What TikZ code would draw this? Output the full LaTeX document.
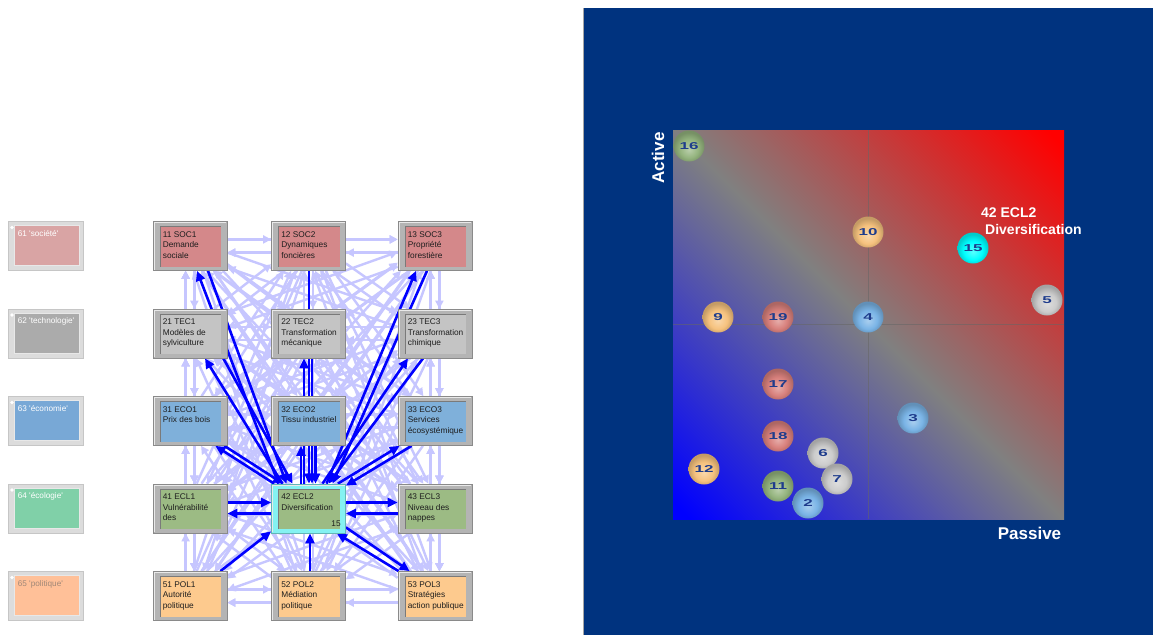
\documentclass[tikz,border=0pt]{standalone}
\usepackage{fontspec}
\setmainfont{Liberation Sans}
\newfontfamily\ballfont[FakeStretch=1.7]{Liberation Sans}
\usetikzlibrary{arrows.meta}
\pgfdeclarelayer{background}
\pgfsetlayers{background,main}

% box colours
\definecolor{framegray}{HTML}{B4B4B4}
\definecolor{frameedge}{HTML}{8A8A8A}
\definecolor{innerline}{HTML}{7A7A7A}
\definecolor{catframe}{HTML}{DCDCDC}
\definecolor{catedge}{HTML}{C6C6C6}
\definecolor{soc}{HTML}{D4888A}
\definecolor{tec}{HTML}{C4C4C4}
\definecolor{eco}{HTML}{7FB0DA}
\definecolor{ecl}{HTML}{9CBB84}
\definecolor{pol}{HTML}{FDCA8E}
\definecolor{hicyan}{HTML}{84F2F2}
\definecolor{catsoc}{HTML}{D9A4A4}
\definecolor{cattec}{HTML}{ABABAB}
\definecolor{cateco}{HTML}{78A8D6}
\definecolor{catecl}{HTML}{80D0A8}
\definecolor{catpol}{HTML}{FFC098}
\definecolor{catpoltext}{HTML}{A08878}
\definecolor{celltextc}{HTML}{1E1E1E}
% links
\definecolor{linklite}{HTML}{C6C6FF}
\definecolor{linkdark}{HTML}{0000FF}
% map
\definecolor{panel}{HTML}{00337F}
\definecolor{midgray}{HTML}{808080}
\definecolor{balltext}{HTML}{1E3C8C}
\definecolor{bOrg}{HTML}{F6C27E}
\definecolor{bPnk}{HTML}{D8807C}
\definecolor{bBlu}{HTML}{7AB4E6}
\definecolor{bGry}{HTML}{CCCCCC}
\definecolor{bGrn}{HTML}{94B47E}
\definecolor{bCyn}{HTML}{00FFFF}
\definecolor{ballc}{HTML}{CCCCCC}

\pgfdeclarehorizontalshading{plotgrad}{100bp}{color(0bp)=(blue); color(16bp)=(blue); color(50bp)=(midgray); color(84bp)=(red); color(100bp)=(red)}
\pgfdeclareradialshading[ballc]{bubble}{\pgfpoint{0bp}{-6bp}}{color(0bp)=(ballc!65!white); color(15bp)=(ballc); color(25bp)=(ballc!80!black); color(50bp)=(ballc!80!black)}

\tikzset{
  cell/.style={rectangle, minimum width=74pt, minimum height=49pt, inner sep=0pt,
    fill=framegray, draw=frameedge, line width=0.7pt,
    path picture={
      \fill[#1] ([shift={(7pt,4pt)}]path picture bounding box.south west)
        rectangle ([shift={(-6pt,-5pt)}]path picture bounding box.north east);
      \draw[innerline, line width=0.8pt] ([shift={(7pt,4pt)}]path picture bounding box.south west)
        |- ([shift={(-6pt,-5pt)}]path picture bounding box.north east);
      \draw[white!70!framegray, line width=1pt] ([shift={(1pt,1pt)}]path picture bounding box.south west)
        |- ([shift={(-1pt,-1pt)}]path picture bounding box.north east);
    }},
  catbox/.style={rectangle, minimum width=75pt, minimum height=49pt, inner sep=0pt,
    fill=catframe, draw=catedge, line width=0.7pt,
    path picture={
      \fill[#1] ([shift={(6pt,5pt)}]path picture bounding box.south west)
        rectangle ([shift={(-4pt,-4pt)}]path picture bounding box.north east);
      \draw[white!60!catedge, line width=0.6pt] ([shift={(6pt,5pt)}]path picture bounding box.south west)
        rectangle ([shift={(-4pt,-4pt)}]path picture bounding box.north east);
      \fill[white] ([shift={(4pt,-6pt)}]path picture bounding box.north west) circle (1.8pt);
    }},
  celltext/.style={anchor=north west, align=left, inner sep=0pt,
    font=\fontsize{8.3}{10.6}\selectfont, text=celltextc},
  cattext/.style={anchor=north west, align=left, inner sep=0pt,
    font=\fontsize{8.2}{10}\selectfont, text=white},
  lite/.style={draw=linklite, line width=2.4pt, -{Triangle[length=8pt,width=8pt]}},
  dark/.style={draw=linkdark, line width=2.6pt, -{Triangle[length=10pt,width=9pt]}},
  ball/.style={circle, minimum size=31pt, inner sep=0pt, shading=bubble,
    /utils/exec={\colorlet{ballc}{#1}},
    font=\ballfont\bfseries\fontsize{10}{10}\selectfont, text=balltext},
  axlabel/.style={inner sep=0pt, text=white, font=\bfseries\fontsize{17}{17}\selectfont},
  quad/.style={draw=black!60, opacity=0.55, line width=0.8pt},
}

\begin{document}
\begin{tikzpicture}[x=1pt, y=-1pt]
\useasboundingbox (0,0) rectangle (1153,635);
\begin{pgfonlayer}{background}
  \fill[white] (0,0) rectangle (1153,635);
\end{pgfonlayer}

% ---------- category legend ----------
\node[catbox=catsoc] (c61) at (45.5,246) {};
\node[cattext] (ct61) at ([shift={(10,9)}]c61.north west) {61 \textquotesingle société\textquotesingle};
\node[catbox=cattec] (c62) at (45.5,333.5) {};
\node[cattext] (ct62) at ([shift={(10,9)}]c62.north west) {62 \textquotesingle technologie\textquotesingle};
\node[catbox=cateco] (c63) at (45.5,421) {};
\node[cattext] (ct63) at ([shift={(10,9)}]c63.north west) {63 \textquotesingle économie\textquotesingle};
\node[catbox=catecl] (c64) at (45.5,508.5) {};
\node[cattext] (ct64) at ([shift={(10,9)}]c64.north west) {64 \textquotesingle écologie\textquotesingle};
\node[catbox=catpol] (c65) at (45.5,596) {};
\node[cattext, text=catpoltext] (ct65) at ([shift={(10,9)}]c65.north west) {65 \textquotesingle politique\textquotesingle};

% ---------- variable boxes ----------
\node[cell=soc] (n11) at (190,246) {};
\node[celltext] (t11) at ([shift={(10,10)}]n11.north west) {11 SOC1\\Demande\\sociale};
\node[cell=soc] (n12) at (308.5,246) {};
\node[celltext] (t12) at ([shift={(10,10)}]n12.north west) {12 SOC2\\Dynamiques\\foncières};
\node[cell=soc] (n13) at (435,246) {};
\node[celltext] (t13) at ([shift={(10,10)}]n13.north west) {13 SOC3\\Propriété\\forestière};

\node[cell=tec] (n21) at (190,333.5) {};
\node[celltext] (t21) at ([shift={(10,10)}]n21.north west) {21 TEC1\\Modèles de\\sylviculture};
\node[cell=tec] (n22) at (308.5,333.5) {};
\node[celltext] (t22) at ([shift={(10,10)}]n22.north west) {22 TEC2\\Transformation\\mécanique};
\node[cell=tec] (n23) at (435,333.5) {};
\node[celltext] (t23) at ([shift={(10,10)}]n23.north west) {23 TEC3\\Transformation\\chimique};

\node[cell=eco] (n31) at (190,421) {};
\node[celltext] (t31) at ([shift={(10,10)}]n31.north west) {31 ECO1\\Prix des bois};
\node[cell=eco] (n32) at (308.5,421) {};
\node[celltext] (t32) at ([shift={(10,10)}]n32.north west) {32 ECO2\\Tissu industriel};
\node[cell=eco] (n33) at (435,421) {};
\node[celltext] (t33) at ([shift={(10,10)}]n33.north west) {33 ECO3\\Services\\écosystémique};

\node[cell=ecl] (n41) at (190,508.5) {};
\node[celltext] (t41) at ([shift={(10,10)}]n41.north west) {41 ECL1\\Vulnérabilité\\des};
\node[cell=ecl, fill=hicyan, draw=hicyan!75!black] (n42) at (308.5,508.5) {};
\node[celltext] (t42) at ([shift={(10,10)}]n42.north west) {42 ECL2\\Diversification};
\node[celltext, anchor=south east] (k42) at ([shift={(-5,-7)}]n42.south east) {15};
\node[cell=ecl] (n43) at (435,508.5) {};
\node[celltext] (t43) at ([shift={(10,10)}]n43.north west) {43 ECL3\\Niveau des\\nappes};

\node[cell=pol] (n51) at (190,596) {};
\node[celltext] (t51) at ([shift={(10,10)}]n51.north west) {51 POL1\\Autorité\\politique};
\node[cell=pol] (n52) at (308.5,596) {};
\node[celltext] (t52) at ([shift={(10,10)}]n52.north west) {52 POL2\\Médiation\\politique};
\node[cell=pol] (n53) at (435,596) {};
\node[celltext] (t53) at ([shift={(10,10)}]n53.north west) {53 POL3\\Stratégies\\action publique};

% ---------- influence links (behind the boxes) ----------
\begin{pgfonlayer}{background}
  % weak links between every pair of variables, one arrow each way
  \foreach \a [count=\i] in {11,12,13,21,22,23,31,32,33,41,43,51,52,53} {
    \foreach \b [count=\j] in {11,12,13,21,22,23,31,32,33,41,43,51,52,53} {
      \ifnum\i<\j
        \pgfmathtruncatemacro\ra{\a/10}
        \pgfmathtruncatemacro\ca{\a-10*\ra}
        \pgfmathtruncatemacro\rb{\b/10}
        \pgfmathtruncatemacro\cb{\b-10*\rb}
        \pgfmathsetmacro\xa{190+118.5*(\ca-1)+4*(\ca-1)*(\ca-2)}
        \pgfmathsetmacro\ya{246+87.5*(\ra-1)}
        \pgfmathsetmacro\xb{190+118.5*(\cb-1)+4*(\cb-1)*(\cb-2)}
        \pgfmathsetmacro\yb{246+87.5*(\rb-1)}
        \pgfmathsetmacro\t{atan2(\ya-\yb,\xb-\xa)}
        \pgfmathtruncatemacro\sA{mod(\t+10+720,360)}
        \pgfmathtruncatemacro\eA{mod(\t+170+720,360)}
        \pgfmathtruncatemacro\sB{mod(\t+190+720,360)}
        \pgfmathtruncatemacro\eB{mod(\t-10+720,360)}
        \draw[lite] (n\a.\sA) -- (n\b.\eA);
        \draw[lite] (n\b.\sB) -- (n\a.\eB);
      \fi
    }
  }

  % strong links of 42 ECL2
  \draw[dark] ([shift={(-30,0)}]n42.north) -- ([shift={(7,0)}]n11.south);
  \draw[dark] ([shift={(18,0)}]n11.south) -- ([shift={(-22,0)}]n42.north);
  \draw[dark] ([shift={(0.5,0)}]n12.south) -- ([shift={(0.5,0)}]n42.north);
  \draw[dark] ([shift={(18,0)}]n42.north) -- ([shift={(-19,0)}]n13.south);
  \draw[dark] ([shift={(-8,0)}]n13.south) -- ([shift={(24,0)}]n42.north);

  \draw[dark] ([shift={(-26,0)}]n42.north) -- ([shift={(15,0)}]n21.south);
  \draw[dark] ([shift={(-4,0)}]n21.south east) -- ([shift={(-16,0)}]n42.north);
  \draw[dark] ([shift={(-4.5,0)}]n42.north) -- ([shift={(-4.5,0)}]n22.south);
  \draw[dark] ([shift={(3.5,0)}]n22.south) -- ([shift={(3.5,0)}]n42.north);
  \draw[dark] ([shift={(14,0)}]n42.north) -- ([shift={(-27,0)}]n23.south);
  \draw[dark] ([shift={(-12,0)}]n23.south) -- ([shift={(20,0)}]n42.north);

  \draw[dark] ([shift={(3,0)}]n42.north west) -- ([shift={(-12,0)}]n31.south east);
  \draw[dark] ([shift={(-3,0)}]n31.south east) -- ([shift={(12,0)}]n42.north west);
  \draw[dark] ([shift={(-7.5,0)}]n42.north) -- ([shift={(-7.5,0)}]n32.south);
  \draw[dark] ([shift={(7,0)}]n32.south) -- ([shift={(7,0)}]n42.north);
  \draw[dark] ([shift={(-8,0)}]n42.north east) -- ([shift={(2,0)}]n33.south west);
  \draw[dark] ([shift={(14,0)}]n33.south west) -- ([shift={(0,2)}]n42.north east);

  \draw[dark] ([shift={(0,-6)}]n41.east) -- ([shift={(0,-6)}]n42.west);
  \draw[dark] ([shift={(0,5)}]n42.west) -- ([shift={(0,5)}]n41.east);
  \draw[dark] ([shift={(0,-6)}]n42.east) -- ([shift={(0,-6)}]n43.west);
  \draw[dark] ([shift={(0,5)}]n43.west) -- ([shift={(0,5)}]n42.east);

  \draw[dark] ([shift={(-7,0)}]n51.north east) -- ([shift={(0,-2)}]n42.south west);
  \draw[dark] ([shift={(1.5,0)}]n52.north) -- ([shift={(1.5,0)}]n42.south);
  \draw[dark] ([shift={(0,-6)}]n42.south east) -- ([shift={(12,0)}]n53.north west);
  \draw[dark] ([shift={(1,0)}]n53.north west) -- ([shift={(-9,0)}]n42.south east);
\end{pgfonlayer}

% ---------- influence / dependence map ----------
\fill[panel] (583,8) rectangle (1153,635);
\draw[gray!70, line width=1.2pt] (583.6,8) -- (583.6,635);
\shade[shading=plotgrad, shading angle=45] (673,130) rectangle (1064,519);
\draw[quad] (868,130) -- (868,519);
\draw[quad] (673,324) -- (1064,324);

\node[axlabel, rotate=90] (act) at (658,158) {Active};
\node[axlabel] (pas) at (1029.5,533) {Passive};

\node[ball=bGrn] (b16) at (689,146) {16};
\node[ball=bOrg] (b10) at (868,232) {10};
\node[ball=bCyn] (b15) at (973,248) {15};
\node[ball=bGry] (b5) at (1047,300) {5};
\node[ball=bOrg] (b9) at (718,317) {9};
\node[ball=bPnk] (b19) at (778,317) {19};
\node[ball=bBlu] (b4) at (868,317) {4};
\node[ball=bPnk] (b17) at (778,384) {17};
\node[ball=bBlu] (b3) at (913,418) {3};
\node[ball=bPnk] (b18) at (778,436) {18};
\node[ball=bGry] (b6) at (823,453) {6};
\node[ball=bOrg] (b12) at (704,469) {12};
\node[ball=bGry] (b7) at (837,479) {7};
\node[ball=bGrn] (b11) at (778,486) {11};
\node[ball=bBlu] (b2) at (808,503) {2};

\node[anchor=north west, align=left, inner sep=0pt, text=white,
  font=\bfseries\fontsize{14}{17}\selectfont] (sel) at (981,208)
  {42 ECL2\\\hspace*{4pt}Diversification};
\end{tikzpicture}
\end{document}
